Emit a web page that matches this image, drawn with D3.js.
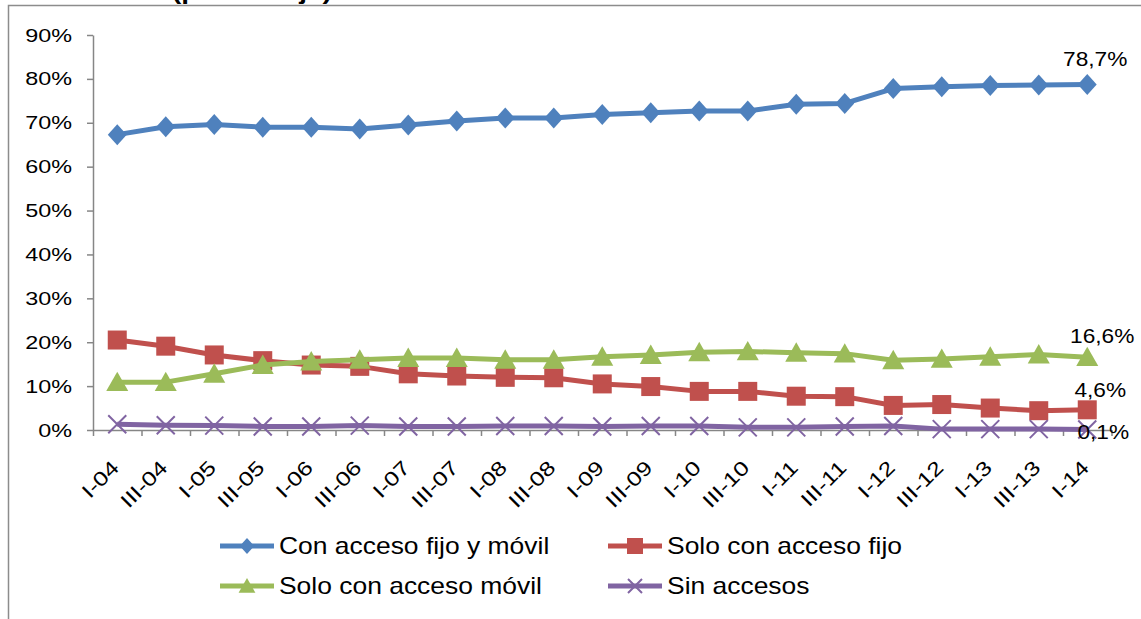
<!DOCTYPE html>
<html><head><meta charset="utf-8">
<script src="https://cdn.jsdelivr.net/npm/d3@7"></script>
<style>
html,body{margin:0;padding:0;background:#fff;}
svg{display:block;font-family:"Liberation Sans",Arial,sans-serif;}
</style></head>
<body>
<svg id="c" width="1141" height="619"></svg>
<script>
const categories = ["I-04","III-04","I-05","III-05","I-06","III-06","I-07","III-07","I-08","III-08","I-09","III-09","I-10","III-10","I-11","III-11","I-12","III-12","I-13","III-13","I-14"];
const seriesNames = ["Con acceso fijo y móvil","Solo con acceso fijo","Solo con acceso móvil","Sin accesos"];
const fijoYMovil = [67.3,69.1,69.6,69.0,69.0,68.6,69.5,70.4,71.1,71.1,71.9,72.3,72.7,72.7,74.2,74.4,77.8,78.2,78.5,78.6,78.7];
const soloFijo   = [20.5,19.1,17.1,15.8,14.8,14.5,12.8,12.3,12.0,11.9,10.5,9.9,8.8,8.8,7.7,7.6,5.6,5.8,5.0,4.4,4.6];
const soloMovil  = [10.9,10.9,12.8,14.8,15.6,16.0,16.4,16.4,16.0,16.0,16.7,17.1,17.7,17.9,17.6,17.4,15.9,16.2,16.7,17.2,16.6];
const sinAccesos = [1.3,1.1,1.0,0.8,0.8,1.0,0.8,0.8,0.9,0.9,0.8,0.9,0.9,0.6,0.6,0.8,0.9,0.2,0.2,0.2,0.1];
const yTicks = [0,10,20,30,40,50,60,70,80,90];
const titleText = "(porcentaje)";

const svg = d3.select("#c");
const SX = 1.24;
const colors = ["#4F81BD","#C0504D","#9BBB59","#8064A2"];
const symbols = ["diamond","square","triangle","x"];
const data = [fijoYMovil, soloFijo, soloMovil, sinAccesos];

function stretch(sel, sx){
  sel.each(function(){
    const t = d3.select(this);
    const x = +t.attr("x") || 0, y = +t.attr("y") || 0;
    const pre = t.attr("transform") || "";
    t.attr("transform", pre + ` translate(${x},${y}) scale(${sx},1) translate(${-x},${-y})`);
  });
}

// outer frame + title (clipped by the top edge, as in the source)
svg.append("path").attr("d","M8.5,640 V5.5 H1150").attr("fill","none").attr("stroke","#8c8c8c").attr("stroke-width",1.5);
const tt = svg.append("text").attr("x",172).attr("y",-1).attr("font-weight","bold").attr("font-size",22).text(titleText);
stretch(tt, 1.27);

const x = d3.scaleBand().domain(categories).range([93,1111.5]).paddingInner(0).paddingOuter(0);
const xTick = d3.scaleLinear().domain([0,categories.length]).range([93,1111.5]);
const y = d3.scaleLinear().domain([0,90]).range([430,35]);
const cx = d => x(d) + x.bandwidth()/2;

// y axis
const ya = svg.append("g").attr("transform","translate(93,0)")
  .call(d3.axisLeft(y).tickValues(yTicks).tickFormat(d=>d+"%").tickSize(6).tickSizeOuter(0).tickPadding(15));
ya.select(".domain").attr("stroke","#868686").attr("stroke-width",1.5);
ya.selectAll(".tick line").attr("stroke","#868686").attr("stroke-width",1.5);
ya.selectAll("text").attr("font-size",19).attr("fill","#000").attr("font-family","Liberation Sans, Arial, sans-serif");
stretch(ya.selectAll("text"), 1.23);

// x axis: boundary ticks
const xa = svg.append("g").attr("transform","translate(0,430)")
  .call(d3.axisBottom(xTick).tickValues(d3.range(categories.length+1)).tickFormat("").tickSize(6).tickSizeOuter(0));
xa.select(".domain").attr("stroke","#868686").attr("stroke-width",1.5);
xa.selectAll(".tick line").attr("stroke","#868686").attr("stroke-width",1.5);

// x labels via band axis
const xl = svg.append("g").attr("transform","translate(0,430)")
  .call(d3.axisBottom(x).tickSize(0).tickPadding(0));
xl.select(".domain").remove();
xl.selectAll(".tick text")
  .attr("font-size",20).attr("fill","#000").attr("font-family","Liberation Sans, Arial, sans-serif")
  .attr("text-anchor","end").attr("dy",0).attr("x",3).attr("y",39)
  .attr("transform","rotate(-45 3 39)");
stretch(xl.selectAll(".tick text"), SX);

// series
function marker(g, type, color, px, py, s){
  if(type==="diamond"){
    g.append("path").attr("d",`M${px},${py-s} L${px+s*0.9},${py} L${px},${py+s} L${px-s*0.9},${py} Z`).attr("fill",color);
  } else if(type==="square"){
    g.append("rect").attr("x",px-s).attr("y",py-s).attr("width",2*s).attr("height",2*s).attr("fill",color);
  } else if(type==="triangle"){
    g.append("path").attr("d",`M${px},${py-s} L${px+s*1.05},${py+s*0.85} L${px-s*1.05},${py+s*0.85} Z`).attr("fill",color);
  } else {
    g.append("path").attr("d",`M${px-s},${py-s} L${px+s},${py+s} M${px-s},${py+s} L${px+s},${py-s}`)
      .attr("stroke",color).attr("stroke-width",2).attr("fill","none");
  }
}
const line = d3.line().x((d,i)=>cx(categories[i])).y(d=>y(d));
const sizes = [10.5,9.5,10.5,9];
data.forEach((vals,k)=>{
  const g = svg.append("g");
  g.append("path").datum(vals).attr("d",line).attr("fill","none").attr("stroke",colors[k]).attr("stroke-width",5).attr("stroke-linejoin","round");
  vals.forEach((v,i)=>marker(g, symbols[k], colors[k], cx(categories[i]), y(v), sizes[k]));
});

// end labels
const labelDx = [8,13,15,16];
const labelDy = [-19,-13,-14,9];
const fmt = v => v.toFixed(1).replace(".",",")+"%";
data.forEach((vals,k)=>{
  const i = vals.length-1;
  const t = svg.append("text").attr("x",cx(categories[i])+labelDx[k]).attr("y",y(vals[i])+labelDy[k])
    .attr("text-anchor","middle").attr("font-size",21).attr("fill","#000").text(fmt(vals[i]));
  stretch(t, 1.08);
});

// legend
const legPos = [[220,546],[608,546],[220,586],[608,586]];
seriesNames.forEach((n,k)=>{
  const [lx,ly] = legPos[k];
  const g = svg.append("g");
  g.append("line").attr("x1",lx).attr("x2",lx+54).attr("y1",ly).attr("y2",ly).attr("stroke",colors[k]).attr("stroke-width",5);
  marker(g, symbols[k], colors[k], lx+27, ly, k===3?7:8);
  const t = g.append("text").attr("x",lx+59).attr("y",ly).attr("dy","0.36em").attr("font-size",23).attr("fill","#000").text(n);
  stretch(t, 1.15);
});
</script>
</body></html>
